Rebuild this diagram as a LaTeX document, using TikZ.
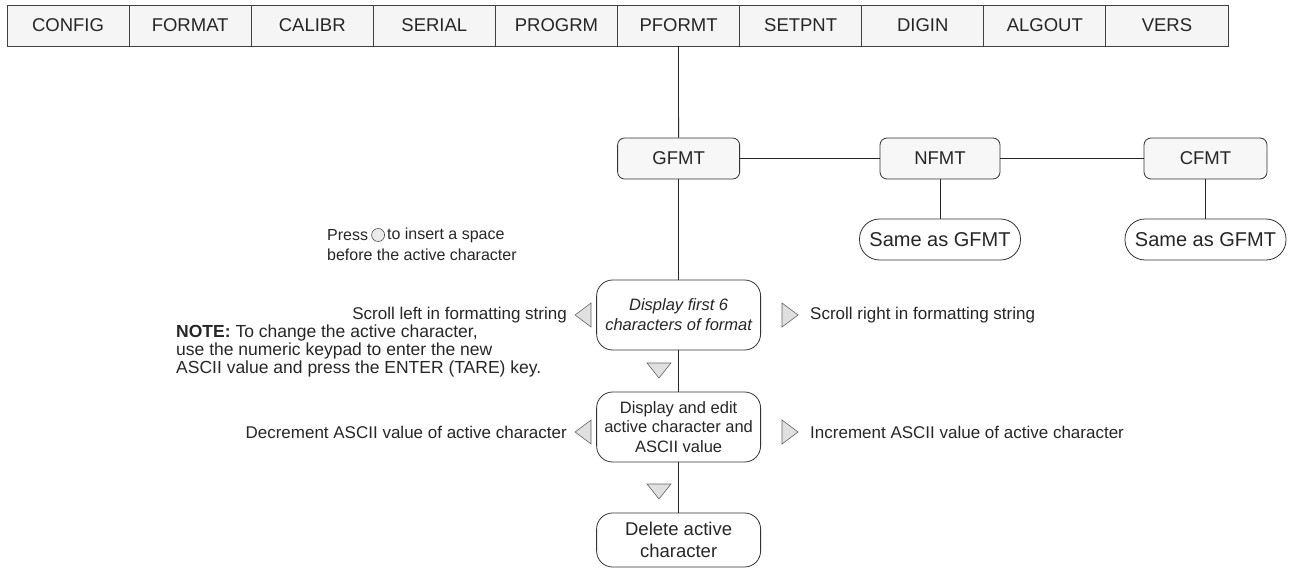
\documentclass[tikz,border=0pt]{standalone}
\usepackage{fontspec}
\setmainfont{Liberation Sans}
\usetikzlibrary{positioning}
\begin{document}
\begin{tikzpicture}[x=1pt,y=-1pt,
  menu/.style={draw=black!75, fill=black!4, line width=0.9pt, minimum width=122.1pt, minimum height=41pt, inner sep=0pt, font=\fontsize{18.5}{20}\selectfont, text=black!85},
  sub/.style={draw=black!80, fill=black!3, rounded corners=7pt, line width=0.8pt, minimum width=122pt, minimum height=41pt, inner sep=0pt, font=\fontsize{18.5}{20}\selectfont, text=black!85},
  same/.style={draw=black!80, fill=white, rounded corners=20pt, line width=0.8pt, minimum width=161pt, minimum height=41pt, inner sep=0pt, font=\fontsize{20}{20}\selectfont, text=black!85},
  proc/.style={draw=black!80, fill=white, rounded corners=16pt, line width=0.8pt, minimum width=164pt, inner sep=0pt, align=center, text=black!85},
  tri/.style={draw=black!60, fill=black!12, line width=0.6pt},
  lbl/.style={font=\fontsize{17}{20}\selectfont, inner sep=0pt, text=black!85},
  conn/.style={draw=black!85, line width=0.8pt}
]
\useasboundingbox (0,0) rectangle (1289,567);
% top menu
\foreach \t [count=\i] in {CONFIG,FORMAT,CALIBR,SERIAL,PROGRM,PFORMT,SETPNT,DIGIN,ALGOUT,VERS}
  \node[menu] (m\i) at ({7+122.1*(\i-0.5)},25.5) {\t};
% sub menu
\node[sub] (gfmt) at (678.6,158.5) {GFMT};
\node[sub, minimum width=120pt] (nfmt) at (940,158.5) {NFMT};
\node[sub, minimum width=123pt] (cfmt) at (1205.5,158.5) {CFMT};
\node[same] (same1) at (940,239.5) {Same as GFMT};
\node[same] (same2) at (1205.5,239.5) {Same as GFMT};
% process column
\node[proc, minimum height=70pt, font=\fontsize{16.5}{20}\selectfont\itshape] (p1) at (678.6,315) {Display first 6\\characters of format};
\node[proc, minimum height=70pt, font=\fontsize{16.5}{19.5}\selectfont] (p2) at (678.6,427) {Display and edit\\active character and\\ASCII value};
\node[proc, minimum height=54pt, font=\fontsize{18.5}{22}\selectfont] (p3) at (678.6,540) {Delete active\\character};
% connectors
\draw[conn] (m6.south) -- (gfmt.north);
\draw[conn] (gfmt.east) -- (nfmt.west);
\draw[conn] (nfmt.east) -- (cfmt.west);
\draw[conn] (nfmt.south) -- (same1.north);
\draw[conn] (cfmt.south) -- (same2.north);
\draw[conn] (gfmt.south) -- (p1.north);
\draw[conn] (p1.south) -- (p2.north);
\draw[conn] (p2.south) -- (p3.north);
% down triangles
\draw[tri] (647,363) -- (671,363) -- (659,378) -- cycle;
\draw[tri] (647,484) -- (671,484) -- (659,499) -- cycle;
% left / right triangles
\draw[tri] (575,315) -- (591,303) -- (591,327) -- cycle;
\draw[tri] (782,303) -- (798,315) -- (782,327) -- cycle;
\draw[tri] (575,432) -- (591,420) -- (591,444) -- cycle;
\draw[tri] (782,420) -- (798,432) -- (782,444) -- cycle;
% labels
\node[lbl, anchor=east] (sl) at (567,315) {Scroll left in formatting string};
\node[lbl, anchor=west] (sr) at (810,315) {Scroll right in formatting string};
\node[lbl, anchor=east] (dec) at (567,432) {Decrement ASCII value of active character};
\node[lbl, anchor=west] (inc) at (810,432) {Increment ASCII value of active character};
\node[lbl, anchor=west, font=\fontsize{16}{20}\selectfont] (press) at (327,235) {Press};
\node[circle, draw=black!70, fill=black!8, line width=0.6pt, minimum size=13pt, inner sep=0pt, right=3pt of press] (key) {};
\node[lbl, anchor=west, right=2pt of key, font=\fontsize{16}{20}\selectfont] (ins) {to insert a space};
\node[lbl, anchor=west, font=\fontsize{16}{20}\selectfont] (bef) at (327,255) {before the active character};
\node[lbl, anchor=west, align=left, font=\fontsize{17.5}{18.3}\selectfont] (note) at (176,351) {\textbf{NOTE:} To change the active character,\\use the numeric keypad to enter the new\\ASCII value and press the ENTER (TARE) key.};
\end{tikzpicture}
\end{document}
